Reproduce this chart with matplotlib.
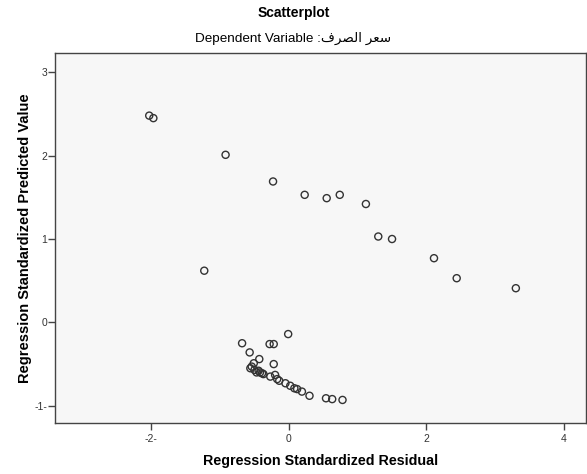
import matplotlib.pyplot as plt
import numpy as np

plt.rcParams['font.family'] = ['Liberation Sans', 'DejaVu Sans']

# Residuals (x) and predicted values (y)
residual = [-2.03, -1.97, -0.92, -0.23, -1.23,
            0.23, 0.55, 0.74, 1.12, 1.30, 1.50, 2.11, 2.44, 3.30,
            -0.68, -0.28, -0.22, -0.01, -0.57, -0.43, -0.22, -0.51,
            -0.56, -0.54, -0.50, -0.44, -0.42, -0.39, -0.37, -0.47,
            -0.27, -0.20, -0.17, -0.14, -0.05, 0.02, 0.08, 0.12,
            0.19, 0.30, 0.54, 0.63, 0.78]
predicted = [2.48, 2.45, 2.01, 1.69, 0.62,
             1.53, 1.49, 1.53, 1.42, 1.03, 1.00, 0.77, 0.53, 0.41,
             -0.25, -0.26, -0.26, -0.14, -0.36, -0.44, -0.50, -0.49,
             -0.55, -0.53, -0.57, -0.58, -0.60, -0.61, -0.62, -0.60,
             -0.65, -0.63, -0.68, -0.70, -0.73, -0.76, -0.79, -0.80,
             -0.83, -0.88, -0.91, -0.92, -0.93]

x_ticks = [-2, 0, 2, 4]
x_tick_labels = ['-2-', '0', '2', '4']
y_ticks = [-1, 0, 1, 2, 3]
y_tick_labels = ['-1-', '0', '1', '2', '3']

# Arabic variable name in shaped (presentation) forms, visual order
dep_var = '\ufed1\ufeae\ufebc\ufedf\ufe8d \ufeae\ufecc\ufeb3'

fig = plt.figure(figsize=(5.87, 4.74), dpi=100)
ax = fig.add_axes([0.0937, 0.107, 0.9046, 0.781])
ax.set_facecolor('#f7f7f7')

ax.scatter(residual, predicted, s=26, facecolors='none',
           edgecolors='#333333', linewidths=1.0, zorder=3)

ax.set_xlim(-3.40, 4.32)
ax.set_ylim(-1.21, 3.23)
ax.set_xticks(x_ticks)
ax.set_xticklabels(x_tick_labels)
ax.set_yticks(y_ticks)
ax.set_yticklabels(y_tick_labels)
ax.tick_params(length=5.3, width=1, color='#444444', labelsize=7.5,
               labelcolor='#333333')
ax.tick_params(axis='x', pad=2.5)
ax.tick_params(axis='y', pad=0.5)

for s in ax.spines.values():
    s.set_color('#444444')
    s.set_linewidth(1)

ax.set_xlabel('Regression Standardized Residual', fontsize=10.3,
              fontweight='bold', labelpad=7)
ax.set_ylabel('Regression Standardized Predicted Value', fontsize=10.5,
              fontweight='bold', labelpad=1.5)

fig.text(0.5, 1 - 13 / 474, 'Scatterplot', ha='center', va='center',
         fontsize=10, fontweight='bold')
fig.text(0.5, 1 - 38 / 474, 'Dependent Variable :' + dep_var, ha='center',
         va='center', fontsize=9.7)

fig.savefig('out.png', dpi=100)
